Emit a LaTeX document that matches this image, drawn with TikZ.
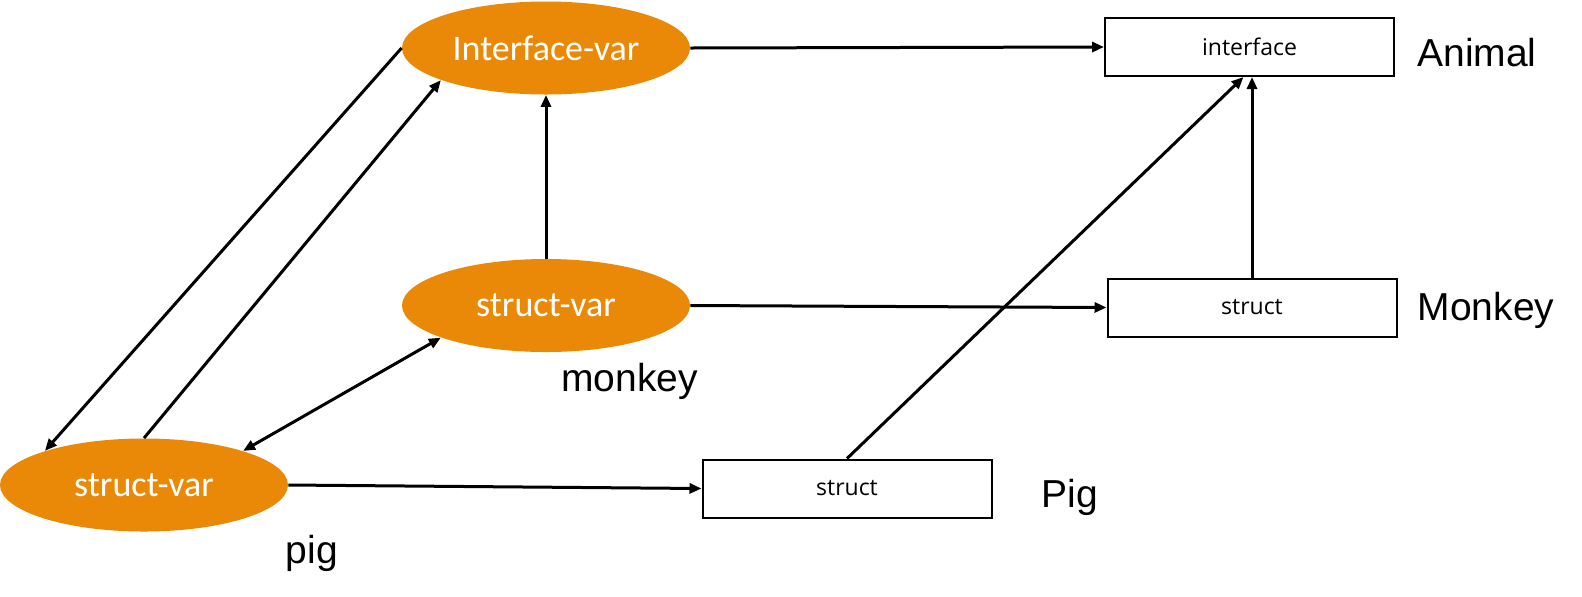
\documentclass[tikz,border=0pt]{standalone}
\usepackage{fontspec}
\setmainfont{Liberation Sans}
\newfontfamily\varfont{Carlito}
\newfontfamily\boxfont{Open Sans}
\usepackage{xcolor}
\usetikzlibrary{shapes.geometric, arrows.meta, positioning}
\definecolor{varorange}{RGB}{234,137,8}

\begin{document}
\begin{tikzpicture}[
  x=0.5pt, y=-0.5pt,
  varnode/.style={ellipse, fill=varorange, text=white, minimum width=144pt, minimum height=46.5pt, inner sep=0pt, font=\varfont\fontsize{18pt}{21pt}\selectfont},
  typebox/.style={rectangle, draw, line width=1pt, minimum width=144.5pt, minimum height=29pt, inner sep=0pt, font=\boxfont\fontsize{11.5pt}{14pt}\selectfont},
  tag/.style={anchor=base, inner sep=0pt, font=\fontsize{19.5pt}{23pt}\selectfont},
  arrow/.style={-{Triangle[length=6pt, width=5pt]}, line width=1.5pt},
  twoway/.style={{Triangle[length=6pt, width=5pt]}-{Triangle[length=6pt, width=5pt]}, line width=1.5pt}
]
\useasboundingbox (0,0) rectangle (1582,596);

% variables
\node[varnode] (ivar) at (546,48) {Interface-var};
\node[varnode] (msvar) at (546,305.5) {struct-var};
\node[varnode] (psvar) at (144,485) {struct-var};

% types
\node[typebox] (iface) at (1249.5,47) {interface};
\node[typebox] (mstruct) at (1252,307.5) {struct};
\node[typebox] (pstruct) at (847,488.5) {struct};

% names
\node[tag] (animal) at (1477,66) {Animal};
\node[tag] (monkeytype) at (1486,320) {Monkey};
\node[tag] (pigtype) at (1069.5,507) {Pig};
\node[tag] (pigvar) at (312,563) {pig};
\node[tag] (monkeyvar) at (629.5,391) {monkey};

\draw[arrow] (ivar.east) -- (iface.west);
\draw[arrow] (msvar.east) -- (mstruct.west);
\draw[arrow] (psvar.east) -- (pstruct.west);
\draw[arrow] (msvar.north) -- (ivar.south);
\draw[arrow] (mstruct.north) -- (mstruct.north |- iface.south);
\draw[arrow] (pstruct.north) -- ([xshift=-3pt]iface.south);
\draw[arrow] (ivar.west) -- (psvar.161);
\draw[arrow] (psvar.north) -- (ivar.197);
\draw[twoway] (psvar.19) -- (msvar.197);
\end{tikzpicture}
\end{document}
